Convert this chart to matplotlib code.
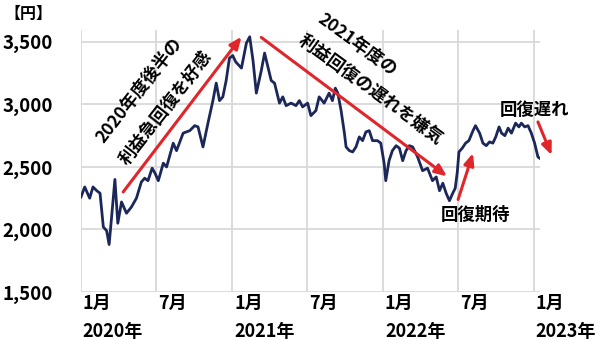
import matplotlib
matplotlib.use("Agg")
import matplotlib.pyplot as plt
import matplotlib.transforms as mtransforms
import pandas as pd

plt.rcParams['font.family'] = ['Noto Sans CJK JP', 'DejaVu Sans']

# ---- data ----
dates = [
    "2020-01-01", "2020-01-10", "2020-01-22", "2020-01-30", "2020-02-08", "2020-02-16",
    "2020-02-24", "2020-03-03", "2020-03-09", "2020-03-15", "2020-03-23", "2020-03-30",
    "2020-04-08", "2020-04-20", "2020-05-02", "2020-05-14", "2020-05-26", "2020-06-03",
    "2020-06-11", "2020-06-21", "2020-06-28", "2020-07-06", "2020-07-18", "2020-07-26",
    "2020-08-11", "2020-08-19", "2020-09-04", "2020-09-20", "2020-10-02", "2020-10-10",
    "2020-10-22", "2020-11-03", "2020-11-15", "2020-11-23", "2020-12-01", "2020-12-09",
    "2020-12-17", "2020-12-25", "2021-01-02", "2021-01-09", "2021-01-23", "2021-02-04",
    "2021-02-12", "2021-02-20", "2021-02-28", "2021-03-12", "2021-03-20", "2021-03-28",
    "2021-04-05", "2021-04-13", "2021-04-25", "2021-05-03", "2021-05-11", "2021-05-23",
    "2021-06-04", "2021-06-12", "2021-06-20", "2021-07-02", "2021-07-10", "2021-07-22",
    "2021-07-30", "2021-08-11", "2021-08-23", "2021-08-31", "2021-09-07", "2021-09-13",
    "2021-09-21", "2021-09-29", "2021-10-03", "2021-10-11", "2021-10-19", "2021-10-27",
    "2021-11-04", "2021-11-12", "2021-11-20", "2021-11-28", "2021-12-06", "2021-12-18",
    "2021-12-26", "2022-01-03", "2022-01-07", "2022-01-15", "2022-01-23", "2022-02-01",
    "2022-02-09", "2022-02-17", "2022-02-25", "2022-03-05", "2022-03-13", "2022-03-25",
    "2022-04-06", "2022-04-18", "2022-04-30", "2022-05-09", "2022-05-17", "2022-05-25",
    "2022-06-02", "2022-06-10", "2022-06-18", "2022-06-24", "2022-06-29", "2022-07-03",
    "2022-07-11", "2022-07-19", "2022-07-27", "2022-08-06", "2022-08-12", "2022-08-22",
    "2022-08-30", "2022-09-07", "2022-09-15", "2022-09-23", "2022-09-30", "2022-10-08",
    "2022-10-14", "2022-10-22", "2022-10-30", "2022-11-07", "2022-11-17", "2022-11-25",
    "2022-12-01", "2022-12-09", "2022-12-17", "2022-12-25", "2023-01-02", "2023-01-10",
    "2023-01-14",
]
prices = [
    2260, 2340, 2250, 2340, 2310, 2290,
    2020, 1990, 1880, 2100, 2400, 2050,
    2220, 2130, 2180, 2250, 2380, 2410,
    2390, 2490, 2450, 2390, 2530, 2500,
    2690, 2630, 2770, 2790, 2830, 2820,
    2660, 2850, 3030, 3170, 3030, 3060,
    3190, 3370, 3390, 3340, 3290, 3490,
    3540, 3350, 3090, 3270, 3410, 3300,
    3190, 3170, 3010, 3060, 2990, 3010,
    2990, 3030, 2980, 3010, 2910, 2950,
    3060, 3010, 3090, 3030, 3130, 3090,
    2950, 2770, 2660, 2630, 2620, 2660,
    2740, 2710, 2780, 2790, 2710, 2710,
    2690, 2530, 2390, 2550, 2630, 2670,
    2650, 2550, 2630, 2670, 2660, 2580,
    2470, 2490, 2390, 2420, 2310, 2370,
    2290, 2230, 2290, 2330, 2460, 2620,
    2650, 2690, 2710, 2790, 2830, 2770,
    2690, 2670, 2700, 2690, 2740, 2820,
    2770, 2750, 2810, 2770, 2850, 2820,
    2850, 2820, 2830, 2770, 2690, 2580,
    2570,
]
y_ticks = [1500, 2000, 2500, 3000, 3500]
y_tick_labels = ["1,500", "2,000", "2,500", "3,000", "3,500"]
x_ticks = ["2020-01-01", "2020-07-01", "2021-01-01", "2021-07-01",
           "2022-01-01", "2022-07-01", "2023-01-01"]
x_tick_labels = ["1月", "7月", "1月", "7月", "1月", "7月", "1月"]
year_positions = ["2020-01-01", "2021-01-01", "2022-01-01", "2023-01-01"]
year_labels = ["2020年", "2021年", "2022年", "2023年"]

# annotation arrows: (start date, start value, end date, end value)
arrows = [
    ("2020-04-12", 2300, "2021-01-23", 3540),
    ("2021-03-12", 3535, "2022-06-04", 2425),
    ("2022-07-01", 2240, "2022-08-06", 2610),
    ("2023-01-10", 2860, "2023-02-12", 2595),
]
# annotation texts: (date, value, text, rotation)
notes = [
    ("2020-05-20", 3114, "2020年度後半の", 52),
    ("2020-07-24", 2970, "利益急回復を好感", 52),
    ("2021-10-29", 3474, "2021年度の", -36),
    ("2021-11-30", 3114, "利益回復の遅れを嫌気", -36),
    ("2022-08-12", 2113, "回復期待", 0),
    ("2023-01-01", 2953, "回復遅れ", 0),
]

x = pd.to_datetime(dates)

fig = plt.figure(figsize=(6.0, 3.4), dpi=100)
ax = fig.add_axes([0.135, 0.141, 0.765, 0.771])

navy = "#1b2759"
red = "#e0262a"

ax.plot(x, prices, color=navy, lw=2.0, solid_joinstyle="round", zorder=3)

ax.set_xlim(pd.Timestamp("2020-01-01"), pd.Timestamp("2023-01-15"))
ax.set_ylim(1500, 3595)

ax.set_yticks(y_ticks)
ax.set_yticklabels(y_tick_labels, fontsize=13.5, fontweight="bold")
ax.set_xticks(pd.to_datetime(x_ticks))
ax.set_xticklabels([])
ax.tick_params(axis="y", length=0, pad=20)
ax.tick_params(axis="x", length=0)
ax.grid(True, color="#d9d9d9", lw=1.3)
ax.set_axisbelow(True)
for s in ax.spines.values():
    s.set_visible(False)

trans = mtransforms.blended_transform_factory(ax.transData, ax.transAxes)
for d, lab in zip(pd.to_datetime(x_ticks), x_tick_labels):
    ax.text(d + pd.Timedelta(days=4), -0.042, lab, transform=trans, ha="left", va="center",
            fontsize=13, fontweight="bold", clip_on=False)
for d, lab in zip(pd.to_datetime(year_positions), year_labels):
    ax.text(d + pd.Timedelta(days=4), -0.15, lab, transform=trans, ha="left", va="center",
            fontsize=13, fontweight="bold", clip_on=False)

fig.text(0.047, 0.958, "【円】", ha="center", va="center", fontsize=11.5, fontweight="bold")

for d0, v0, d1, v1 in arrows:
    ax.annotate("", xy=(pd.Timestamp(d1), v1), xytext=(pd.Timestamp(d0), v0),
                arrowprops=dict(arrowstyle="-|>,head_length=0.7,head_width=0.3",
                                color=red, lw=2.2, shrinkA=0, shrinkB=0),
                annotation_clip=False, zorder=4)

for d, v, s, rot in notes:
    ax.text(pd.Timestamp(d), v, s, rotation=rot, rotation_mode="anchor",
            fontsize=12.5, fontweight="bold", ha="center", va="center", zorder=5,
            clip_on=False)

fig.savefig("out.png", dpi=100)
